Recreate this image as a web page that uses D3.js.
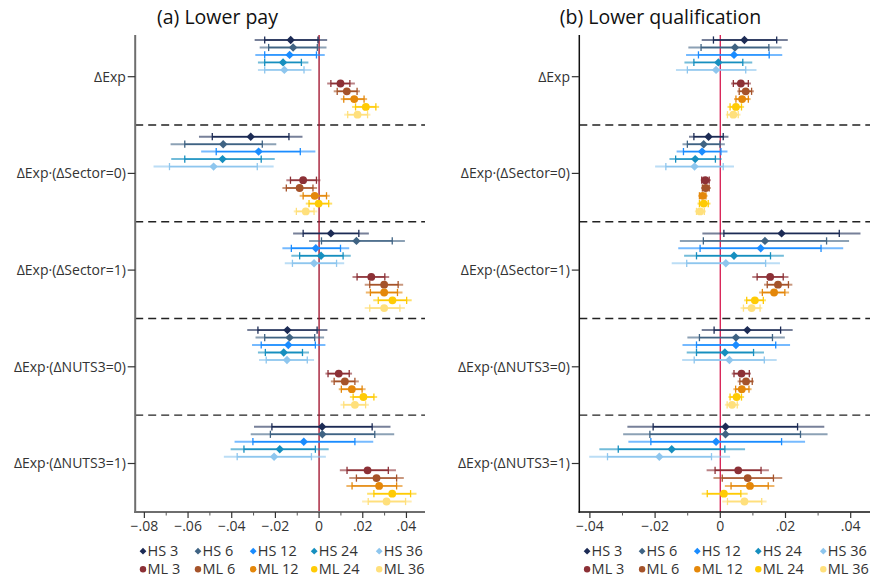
<!DOCTYPE html>
<html>
<head>
<meta charset="utf-8">
<script src="https://cdn.jsdelivr.net/npm/d3@7"></script>
<style>
  html, body { margin: 0; padding: 0; background: #fff; }
  svg { display: block; font-family: "Open Sans", "Noto Sans", sans-serif; }
</style>
</head>
<body>
<svg id="chart" width="871" height="577"></svg>
<script>
// ---------------- DATA (values in hundredths, i.e. 1 = 0.01) ----------------
const groups = ["ΔExp", "ΔExp·(ΔSector=0)", "ΔExp·(ΔSector=1)", "ΔExp·(ΔNUTS3=0)", "ΔExp·(ΔNUTS3=1)"];
const seriesNames = ["HS 3", "HS 6", "HS 12", "HS 24", "HS 36", "ML 3", "ML 6", "ML 12", "ML 24", "ML 36"];
const seriesColors = ["#1c2b55", "#3f6383", "#1a8cff", "#168fbf", "#8ec6ee", "#8c3036", "#a5532a", "#e4870a", "#ffcb05", "#ffe07c"];
const panelTitles = ["(a) Lower pay", "(b) Lower qualification"];
const xTicks = [-0.08, -0.06, -0.04, -0.02, 0, 0.02, 0.04];
const xTicksB = [-0.04, -0.02, 0, 0.02, 0.04];

// Panel (a) Lower pay
const payPoint = [
  [-1.30,-1.19,-1.35,-1.65,-1.59, 0.98,1.27,1.61,2.14,1.76],
  [-3.13,-4.39,-2.77,-4.42,-4.83, -0.73,-0.89,-0.20,-0.02,-0.61],
  [0.54,1.71,-0.15,0.09,-0.23, 2.39,2.98,2.98,3.36,2.98],
  [-1.45,-1.35,-1.41,-1.62,-1.47, 0.90,1.18,1.50,2.03,1.64],
  [0.14,0.15,-0.70,-1.80,-2.06, 2.22,2.63,2.75,3.35,3.09]
];
const payLo95 = [
  [-2.95,-2.72,-2.92,-2.80,-2.80, 0.37,0.67,0.99,1.51,1.15],
  [-5.50,-6.80,-5.40,-6.77,-7.58, -1.50,-1.68,-0.89,-0.61,-1.16],
  [-1.19,-0.46,-1.68,-1.27,-1.57, 1.53,2.09,2.14,2.48,2.09],
  [-3.29,-2.91,-3.07,-2.80,-2.75, 0.29,0.54,0.90,1.41,0.98],
  [-2.98,-3.13,-3.87,-4.05,-4.36, 0.95,1.38,1.25,2.20,1.97]
];
const payHi95 = [
  [0.37,0.34,0.26,-0.49,-0.35, 1.64,1.87,2.20,2.75,2.35],
  [-0.76,-1.96,-0.17,-2.03,-2.08, 0.06,-0.09,0.49,0.60,-0.08],
  [2.28,3.93,1.38,1.45,1.15, 3.21,3.85,3.82,4.24,3.93],
  [0.38,0.23,0.29,-0.46,-0.23, 1.51,1.82,2.13,2.66,2.28],
  [3.27,3.44,2.48,0.44,0.31, 3.52,3.88,3.82,4.46,4.24]
];
const payLo90 = [
  [-2.49,-2.31,-2.49,-2.49,-2.49, 0.54,0.83,1.13,1.67,1.31],
  [-4.89,-6.15,-4.71,-6.15,-6.85, -1.31,-1.50,-0.73,-0.46,-1.04],
  [-0.73,0.11,-1.27,-0.89,-1.22, 1.74,2.32,2.35,2.71,2.32],
  [-2.80,-2.49,-2.65,-2.46,-2.42, 0.41,0.69,1.02,1.56,1.13],
  [-2.16,-2.23,-3.03,-3.44,-3.75, 1.28,1.71,1.51,2.51,2.25]
];
const payHi90 = [
  [-0.05,-0.08,-0.12,-0.81,-0.69, 1.41,1.74,2.06,2.60,2.22],
  [-1.38,-2.60,-0.86,-2.65,-2.83, -0.12,-0.28,0.34,0.44,-0.23],
  [1.82,3.35,0.98,1.10,0.80, 3.01,3.62,3.59,4.01,3.70],
  [-0.09,-0.20,-0.17,-0.76,-0.54, 1.38,1.64,1.97,2.51,2.13],
  [2.43,2.55,1.64,-0.17,-0.35, 3.17,3.55,3.55,4.19,3.96]
];

// Panel (b) Lower qualification
const qualPoint = [
  [0.74,0.45,0.42,-0.06,-0.13, 0.63,0.78,0.67,0.48,0.40],
  [-0.36,-0.51,-0.56,-0.77,-0.79, -0.46,-0.45,-0.54,-0.51,-0.62],
  [1.88,1.37,1.24,0.42,0.17, 1.53,1.77,1.65,1.06,0.96],
  [0.83,0.48,0.48,0.14,0.28, 0.65,0.79,0.66,0.50,0.36],
  [0.16,0.16,-0.13,-1.49,-1.87, 0.55,0.84,0.91,0.11,0.74]
];
const qualLo95 = [
  [-0.57,-0.98,-1.05,-1.10,-1.36, 0.33,0.52,0.42,0.22,0.17],
  [-0.96,-1.16,-1.34,-1.56,-2.00, -0.60,-0.59,-0.67,-0.70,-0.78],
  [-0.55,-1.24,-1.29,-1.11,-1.49, 0.98,1.34,1.19,0.73,0.62],
  [-0.57,-1.01,-1.16,-1.03,-1.17, 0.35,0.53,0.40,0.25,0.14],
  [-2.85,-2.98,-2.82,-3.71,-4.02, -0.42,-0.21,0.14,-0.57,0.06]
];
const qualHi95 = [
  [2.07,1.88,1.90,0.98,1.11, 0.94,1.03,0.93,0.73,0.62],
  [0.25,0.14,0.22,0.04,0.42, -0.29,-0.29,-0.39,-0.30,-0.44],
  [4.30,3.95,3.77,1.95,1.83, 2.09,2.21,2.11,1.40,1.29],
  [2.22,1.98,2.14,1.34,1.73, 0.94,1.03,0.96,0.73,0.58],
  [3.19,3.29,2.60,0.76,0.30, 1.49,1.90,1.66,0.84,1.42]
];
const qualLo90 = [
  [-0.21,-0.59,-0.67,-0.81,-1.01, 0.40,0.58,0.48,0.30,0.22],
  [-0.81,-1.01,-1.13,-1.37,-1.67, -0.57,-0.55,-0.64,-0.64,-0.73],
  [0.11,-0.52,-0.62,-0.73,-1.03, 1.13,1.44,1.29,0.81,0.71],
  [-0.19,-0.64,-0.73,-0.73,-0.80, 0.42,0.60,0.47,0.30,0.21],
  [-2.06,-2.16,-2.13,-3.13,-3.46, -0.16,0.06,0.33,-0.40,0.22]
];
const qualHi90 = [
  [1.73,1.49,1.50,0.69,0.78, 0.86,0.96,0.86,0.65,0.55],
  [0.09,-0.01,0.02,-0.15,0.09, -0.34,-0.34,-0.44,-0.37,-0.49],
  [3.65,3.26,3.09,1.54,1.39, 1.93,2.09,1.98,1.32,1.22],
  [1.85,1.60,1.70,1.02,1.35, 0.89,0.98,0.88,0.65,0.52],
  [2.37,2.46,1.88,0.14,-0.27, 1.25,1.63,1.47,0.63,1.27]
];

// ---------------- LAYOUT ----------------
const UNIT = 0.01;
const rowOffsets = [-36.7, -29.2, -21.8, -14.3, -6.8, 6.8, 14.6, 22.4, 30.2, 38.0];
const plotTop = 35, plotBottom = 512;

const panels = [
  { title: panelTitles[0], titleX: 217.5, left: 135.2, right: 425, domain: [-0.0842, 0.0485],
    ticks: xTicks, zeroColor: "#a51b35", axisColor: "#6e6e6e", axisW: 2,
    pt: payPoint, lo95: payLo95, hi95: payHi95, lo90: payLo90, hi90: payHi90 },
  { title: panelTitles[1], titleX: 660.5, left: 579.3, right: 870, domain: [-0.04325, 0.04592],
    ticks: xTicksB, zeroColor: "#d9285a", axisColor: "#111", axisW: 1.5,
    pt: qualPoint, lo95: qualLo95, hi95: qualHi95, lo90: qualLo90, hi90: qualHi90 }
];
const legendCols = [7.8, 62.8, 118, 179, 244];
const legendRows = [551.2, 569.2];

const svg = d3.select("#chart");
const y = d3.scaleLinear().domain([0, 4]).range([76.7, 463.5]);
const fmt = v => v === 0 ? "0" : d3.format(".2f")(v).replace("0.", ".");

function diamond(r) { return `M0,${-r}L${r},0L0,${r}L${-r},0Z`; }

panels.forEach(p => {
  const x = d3.scaleLinear().domain(p.domain).range([p.left, p.right]);
  const g = svg.append("g");

  // title
  g.append("text").attr("x", p.titleX).attr("y", 24).attr("text-anchor", "middle")
    .attr("font-size", 19.5).attr("fill", "#111").text(p.title);

  // dashed separators
  for (let i = 0; i < groups.length - 1; i++) {
    g.append("line").attr("x1", p.left).attr("x2", p.right)
      .attr("y1", y(i + 0.5)).attr("y2", y(i + 0.5))
      .attr("stroke", "#222").attr("stroke-width", 1.4).attr("stroke-dasharray", "8,5");
  }

  // zero line
  g.append("line").attr("x1", x(0)).attr("x2", x(0)).attr("y1", plotTop).attr("y2", plotBottom)
    .attr("stroke", p.zeroColor).attr("stroke-width", 1.4);

  // y axis
  g.append("line").attr("x1", p.left).attr("x2", p.left).attr("y1", plotTop).attr("y2", plotBottom + p.axisW / 2)
    .attr("stroke", p.axisColor).attr("stroke-width", p.axisW);
  groups.forEach((name, i) => {
    g.append("line").attr("x1", p.left - 7.5).attr("x2", p.left).attr("y1", y(i)).attr("y2", y(i))
      .attr("stroke", "#333").attr("stroke-width", 1.2);
    g.append("text").attr("x", p.left - 9.3).attr("y", y(i)).attr("dy", "0.35em")
      .attr("text-anchor", "end").attr("font-size", 14).attr("fill", "#333").text(name);
  });

  // x axis
  g.append("line").attr("x1", p.left - p.axisW / 2).attr("x2", p.right).attr("y1", plotBottom).attr("y2", plotBottom)
    .attr("stroke", p.axisColor).attr("stroke-width", p.axisW);
  const minor = d3.range(Math.ceil(p.domain[0] / UNIT), Math.floor(p.domain[1] / UNIT) + 1)
    .map(k => k * UNIT).filter(v => Math.abs(Math.round(v / UNIT)) % 2 === 1);
  minor.forEach(v => {
    g.append("line").attr("x1", x(v)).attr("x2", x(v)).attr("y1", plotBottom).attr("y2", plotBottom + 3.5)
      .attr("stroke", "#555").attr("stroke-width", 1);
  });
  p.ticks.forEach(v => {
    g.append("line").attr("x1", x(v)).attr("x2", x(v)).attr("y1", plotBottom).attr("y2", plotBottom + 6)
      .attr("stroke", "#333").attr("stroke-width", 1.2);
    g.append("text").attr("x", x(v)).attr("y", 531).attr("text-anchor", "middle")
      .attr("font-size", 14).attr("fill", "#333").text(fmt(v));
  });

  // estimates
  groups.forEach((name, gi) => {
    seriesNames.forEach((s, si) => {
      const yy = y(gi) + rowOffsets[si];
      const c = seriesColors[si];
      const lo95 = p.lo95[gi][si] * UNIT, hi95 = p.hi95[gi][si] * UNIT;
      const lo90 = p.lo90[gi][si] * UNIT, hi90 = p.hi90[gi][si] * UNIT;
      const pt = p.pt[gi][si] * UNIT;
      g.append("line").attr("x1", x(lo95)).attr("x2", x(hi95)).attr("y1", yy).attr("y2", yy)
        .attr("stroke", c).attr("stroke-width", 2).attr("stroke-opacity", 0.6);
      g.append("line").attr("x1", x(lo90)).attr("x2", x(hi90)).attr("y1", yy).attr("y2", yy)
        .attr("stroke", c).attr("stroke-width", 1.4);
      [lo90, hi90].forEach(v => {
        g.append("line").attr("x1", x(v)).attr("x2", x(v)).attr("y1", yy - 3.6).attr("y2", yy + 3.6)
          .attr("stroke", c).attr("stroke-width", 1.3);
      });
      if (si < 5) {
        g.append("path").attr("d", diamond(4.2)).attr("transform", `translate(${x(pt)},${yy})`).attr("fill", c);
      } else {
        g.append("circle").attr("cx", x(pt)).attr("cy", yy).attr("r", 3.9).attr("fill", c);
      }
    });
  });

  // legend
  seriesNames.forEach((s, si) => {
    const row = si < 5 ? 0 : 1;
    const col = si % 5;
    const lx = p.left + legendCols[col];
    const ly = legendRows[row];
    if (row === 0) {
      g.append("path").attr("d", diamond(3.4)).attr("transform", `translate(${lx},${ly})`).attr("fill", seriesColors[si]);
    } else {
      g.append("circle").attr("cx", lx).attr("cy", ly).attr("r", 3.2).attr("fill", seriesColors[si]);
    }
    g.append("text").attr("x", lx + 4.5).attr("y", ly).attr("dy", "0.36em")
      .attr("font-size", 14.5).attr("fill", "#333").text(s);
  });
});
</script>
</body>
</html>
